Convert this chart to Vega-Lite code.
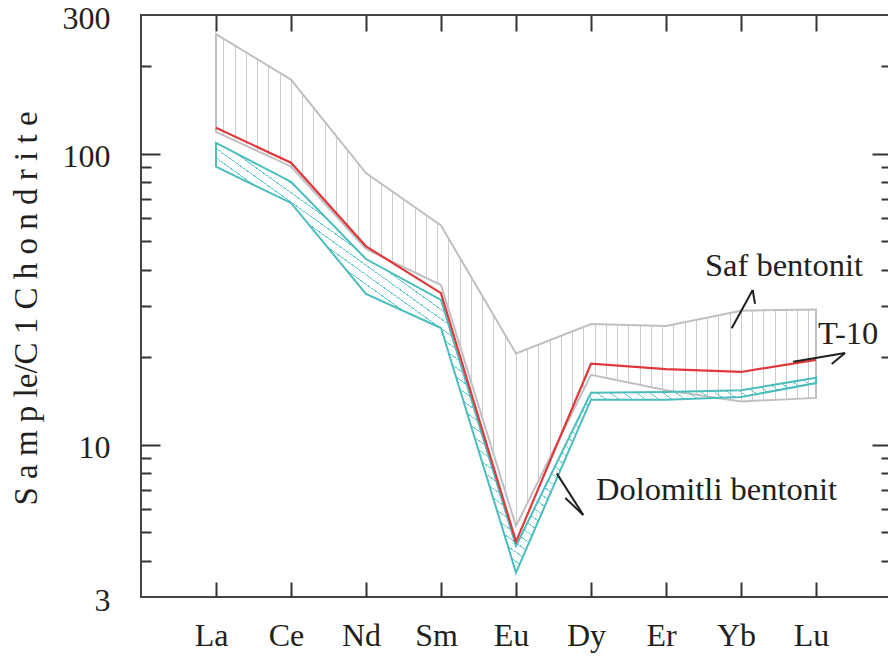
{
"$schema":"https://vega.github.io/schema/vega-lite/v6.json",
"width":750,"height":582,
"autosize":"none",
"padding":{"left":141,"top":15,"right":0,"bottom":65},
"config":{"view":{"stroke":"#444444","strokeWidth":2},"axis":{"grid":false,"domain":false,"tickColor":"#333333","tickWidth":2,"labelFont":"Liberation Serif","labelColor":"#231f20","titleFont":"Liberation Serif","titleColor":"#231f20","titleFontWeight":"normal"},"text":{"font":"Liberation Serif"}},
"data":{"values":[
{"element":"La","idx":1,"saf_hi":258,"saf_lo":119,"t10":123,"dol_hi":109,"dol_lo":90.3},
{"element":"Ce","idx":2,"saf_hi":180,"saf_lo":90.5,"t10":93.2,"dol_hi":80.2,"dol_lo":67.8},
{"element":"Nd","idx":3,"saf_hi":85.9,"saf_lo":47.1,"t10":48.1,"dol_hi":43.5,"dol_lo":33.0},
{"element":"Sm","idx":4,"saf_hi":56.7,"saf_lo":35.4,"t10":33.2,"dol_hi":31.5,"dol_lo":25.2},
{"element":"Eu","idx":5,"saf_hi":20.6,"saf_lo":5.26,"t10":4.65,"dol_hi":4.49,"dol_lo":3.64},
{"element":"Dy","idx":6,"saf_hi":26.0,"saf_lo":17.4,"t10":19.0,"dol_hi":15.1,"dol_lo":14.3},
{"element":"Er","idx":7,"saf_hi":25.6,"saf_lo":15.4,"t10":18.2,"dol_hi":15.2,"dol_lo":14.3},
{"element":"Yb","idx":8,"saf_hi":28.9,"saf_lo":14.1,"t10":17.8,"dol_hi":15.4,"dol_lo":14.6},
{"element":"Lu","idx":9,"saf_hi":29.2,"saf_lo":14.5,"t10":19.6,"dol_hi":17.0,"dol_lo":16.3}
]},
"resolve":{"axis":{"x":"independent","y":"independent"}},
"layer":[
{"mark":{"type":"area","stroke":"#c0c0c0","strokeWidth":2,"fill":{"gradient":"linear","x1":0,"y1":0,"x2":1,"y2":0,"stops":[
{"offset":0.0122,"color":"#fff0"},{"offset":0.0122,"color":"#ccc"},{"offset":0.0139,"color":"#ccc"},{"offset":0.0139,"color":"#fff0"},
{"offset":0.03095,"color":"#fff0"},{"offset":0.03095,"color":"#ccc"},{"offset":0.03265,"color":"#ccc"},{"offset":0.03265,"color":"#fff0"},
{"offset":0.0497,"color":"#fff0"},{"offset":0.0497,"color":"#ccc"},{"offset":0.0514,"color":"#ccc"},{"offset":0.0514,"color":"#fff0"},
{"offset":0.06845,"color":"#fff0"},{"offset":0.06845,"color":"#ccc"},{"offset":0.07015,"color":"#ccc"},{"offset":0.07015,"color":"#fff0"},
{"offset":0.0872,"color":"#fff0"},{"offset":0.0872,"color":"#ccc"},{"offset":0.0889,"color":"#ccc"},{"offset":0.0889,"color":"#fff0"},
{"offset":0.10595,"color":"#fff0"},{"offset":0.10595,"color":"#ccc"},{"offset":0.10765,"color":"#ccc"},{"offset":0.10765,"color":"#fff0"},
{"offset":0.1247,"color":"#fff0"},{"offset":0.1247,"color":"#ccc"},{"offset":0.1264,"color":"#ccc"},{"offset":0.1264,"color":"#fff0"},
{"offset":0.14345,"color":"#fff0"},{"offset":0.14345,"color":"#ccc"},{"offset":0.14515,"color":"#ccc"},{"offset":0.14515,"color":"#fff0"},
{"offset":0.1622,"color":"#fff0"},{"offset":0.1622,"color":"#ccc"},{"offset":0.1639,"color":"#ccc"},{"offset":0.1639,"color":"#fff0"},
{"offset":0.18095,"color":"#fff0"},{"offset":0.18095,"color":"#ccc"},{"offset":0.18265,"color":"#ccc"},{"offset":0.18265,"color":"#fff0"},
{"offset":0.1997,"color":"#fff0"},{"offset":0.1997,"color":"#ccc"},{"offset":0.2014,"color":"#ccc"},{"offset":0.2014,"color":"#fff0"},
{"offset":0.21845,"color":"#fff0"},{"offset":0.21845,"color":"#ccc"},{"offset":0.22015,"color":"#ccc"},{"offset":0.22015,"color":"#fff0"},
{"offset":0.2372,"color":"#fff0"},{"offset":0.2372,"color":"#ccc"},{"offset":0.2389,"color":"#ccc"},{"offset":0.2389,"color":"#fff0"},
{"offset":0.25595,"color":"#fff0"},{"offset":0.25595,"color":"#ccc"},{"offset":0.25765,"color":"#ccc"},{"offset":0.25765,"color":"#fff0"},
{"offset":0.2747,"color":"#fff0"},{"offset":0.2747,"color":"#ccc"},{"offset":0.2764,"color":"#ccc"},{"offset":0.2764,"color":"#fff0"},
{"offset":0.29345,"color":"#fff0"},{"offset":0.29345,"color":"#ccc"},{"offset":0.29515,"color":"#ccc"},{"offset":0.29515,"color":"#fff0"},
{"offset":0.3122,"color":"#fff0"},{"offset":0.3122,"color":"#ccc"},{"offset":0.3139,"color":"#ccc"},{"offset":0.3139,"color":"#fff0"},
{"offset":0.33095,"color":"#fff0"},{"offset":0.33095,"color":"#ccc"},{"offset":0.33265,"color":"#ccc"},{"offset":0.33265,"color":"#fff0"},
{"offset":0.3497,"color":"#fff0"},{"offset":0.3497,"color":"#ccc"},{"offset":0.3514,"color":"#ccc"},{"offset":0.3514,"color":"#fff0"},
{"offset":0.36845,"color":"#fff0"},{"offset":0.36845,"color":"#ccc"},{"offset":0.37015,"color":"#ccc"},{"offset":0.37015,"color":"#fff0"},
{"offset":0.3872,"color":"#fff0"},{"offset":0.3872,"color":"#ccc"},{"offset":0.3889,"color":"#ccc"},{"offset":0.3889,"color":"#fff0"},
{"offset":0.40595,"color":"#fff0"},{"offset":0.40595,"color":"#ccc"},{"offset":0.40765,"color":"#ccc"},{"offset":0.40765,"color":"#fff0"},
{"offset":0.4247,"color":"#fff0"},{"offset":0.4247,"color":"#ccc"},{"offset":0.4264,"color":"#ccc"},{"offset":0.4264,"color":"#fff0"},
{"offset":0.44345,"color":"#fff0"},{"offset":0.44345,"color":"#ccc"},{"offset":0.44515,"color":"#ccc"},{"offset":0.44515,"color":"#fff0"},
{"offset":0.4622,"color":"#fff0"},{"offset":0.4622,"color":"#ccc"},{"offset":0.4639,"color":"#ccc"},{"offset":0.4639,"color":"#fff0"},
{"offset":0.48095,"color":"#fff0"},{"offset":0.48095,"color":"#ccc"},{"offset":0.48265,"color":"#ccc"},{"offset":0.48265,"color":"#fff0"},
{"offset":0.4997,"color":"#fff0"},{"offset":0.4997,"color":"#ccc"},{"offset":0.5014,"color":"#ccc"},{"offset":0.5014,"color":"#fff0"},
{"offset":0.51845,"color":"#fff0"},{"offset":0.51845,"color":"#ccc"},{"offset":0.52015,"color":"#ccc"},{"offset":0.52015,"color":"#fff0"},
{"offset":0.5372,"color":"#fff0"},{"offset":0.5372,"color":"#ccc"},{"offset":0.5389,"color":"#ccc"},{"offset":0.5389,"color":"#fff0"},
{"offset":0.55595,"color":"#fff0"},{"offset":0.55595,"color":"#ccc"},{"offset":0.55765,"color":"#ccc"},{"offset":0.55765,"color":"#fff0"},
{"offset":0.5747,"color":"#fff0"},{"offset":0.5747,"color":"#ccc"},{"offset":0.5764,"color":"#ccc"},{"offset":0.5764,"color":"#fff0"},
{"offset":0.59345,"color":"#fff0"},{"offset":0.59345,"color":"#ccc"},{"offset":0.59515,"color":"#ccc"},{"offset":0.59515,"color":"#fff0"},
{"offset":0.6122,"color":"#fff0"},{"offset":0.6122,"color":"#ccc"},{"offset":0.6139,"color":"#ccc"},{"offset":0.6139,"color":"#fff0"},
{"offset":0.63095,"color":"#fff0"},{"offset":0.63095,"color":"#ccc"},{"offset":0.63265,"color":"#ccc"},{"offset":0.63265,"color":"#fff0"},
{"offset":0.6497,"color":"#fff0"},{"offset":0.6497,"color":"#ccc"},{"offset":0.6514,"color":"#ccc"},{"offset":0.6514,"color":"#fff0"},
{"offset":0.66845,"color":"#fff0"},{"offset":0.66845,"color":"#ccc"},{"offset":0.67015,"color":"#ccc"},{"offset":0.67015,"color":"#fff0"},
{"offset":0.6872,"color":"#fff0"},{"offset":0.6872,"color":"#ccc"},{"offset":0.6889,"color":"#ccc"},{"offset":0.6889,"color":"#fff0"},
{"offset":0.70595,"color":"#fff0"},{"offset":0.70595,"color":"#ccc"},{"offset":0.70765,"color":"#ccc"},{"offset":0.70765,"color":"#fff0"},
{"offset":0.7247,"color":"#fff0"},{"offset":0.7247,"color":"#ccc"},{"offset":0.7264,"color":"#ccc"},{"offset":0.7264,"color":"#fff0"},
{"offset":0.74345,"color":"#fff0"},{"offset":0.74345,"color":"#ccc"},{"offset":0.74515,"color":"#ccc"},{"offset":0.74515,"color":"#fff0"},
{"offset":0.7622,"color":"#fff0"},{"offset":0.7622,"color":"#ccc"},{"offset":0.7639,"color":"#ccc"},{"offset":0.7639,"color":"#fff0"},
{"offset":0.78095,"color":"#fff0"},{"offset":0.78095,"color":"#ccc"},{"offset":0.78265,"color":"#ccc"},{"offset":0.78265,"color":"#fff0"},
{"offset":0.7997,"color":"#fff0"},{"offset":0.7997,"color":"#ccc"},{"offset":0.8014,"color":"#ccc"},{"offset":0.8014,"color":"#fff0"},
{"offset":0.81845,"color":"#fff0"},{"offset":0.81845,"color":"#ccc"},{"offset":0.82015,"color":"#ccc"},{"offset":0.82015,"color":"#fff0"},
{"offset":0.8372,"color":"#fff0"},{"offset":0.8372,"color":"#ccc"},{"offset":0.8389,"color":"#ccc"},{"offset":0.8389,"color":"#fff0"},
{"offset":0.85595,"color":"#fff0"},{"offset":0.85595,"color":"#ccc"},{"offset":0.85765,"color":"#ccc"},{"offset":0.85765,"color":"#fff0"},
{"offset":0.8747,"color":"#fff0"},{"offset":0.8747,"color":"#ccc"},{"offset":0.8764,"color":"#ccc"},{"offset":0.8764,"color":"#fff0"},
{"offset":0.89345,"color":"#fff0"},{"offset":0.89345,"color":"#ccc"},{"offset":0.89515,"color":"#ccc"},{"offset":0.89515,"color":"#fff0"},
{"offset":0.9122,"color":"#fff0"},{"offset":0.9122,"color":"#ccc"},{"offset":0.9139,"color":"#ccc"},{"offset":0.9139,"color":"#fff0"},
{"offset":0.93095,"color":"#fff0"},{"offset":0.93095,"color":"#ccc"},{"offset":0.93265,"color":"#ccc"},{"offset":0.93265,"color":"#fff0"},
{"offset":0.9497,"color":"#fff0"},{"offset":0.9497,"color":"#ccc"},{"offset":0.9514,"color":"#ccc"},{"offset":0.9514,"color":"#fff0"},
{"offset":0.96845,"color":"#fff0"},{"offset":0.96845,"color":"#ccc"},{"offset":0.97015,"color":"#ccc"},{"offset":0.97015,"color":"#fff0"},
{"offset":0.9872,"color":"#fff0"},{"offset":0.9872,"color":"#ccc"},{"offset":0.9889,"color":"#ccc"},{"offset":0.9889,"color":"#fff0"}
]}},
"encoding":{
"x":{"field":"idx","type":"quantitative","scale":{"domain":[0,10],"nice":false,"zero":false},"axis":{"orient":"bottom","values":[1,2,3,4,5,6,7,8,9],"labelExpr":"['','La','Ce','Nd','Sm','Eu','Dy','Er','Yb','Lu'][datum.value]","ticks":false,"labelFontSize":32,"labelPadding":48,"labelBaseline":"alphabetic","labelOffset":-5,"labelFlush":false,"labelOverlap":false,"title":null}},
"y":{"field":"saf_hi","type":"quantitative","scale":{"type":"log","domain":[3,300],"nice":false},"axis":{"orient":"left","values":[3,10,100,300],"format":"d","ticks":false,"labelFontSize":32,"labelPadding":31,"labelOffset":3,"labelBaseline":"middle","labelFlush":false,"labelOverlap":false,"title":"S a m p le/C 1  C h o n d r i t e","titleFontSize":33,"titleX":-105,"titleY":293,"titleAngle":270,"titleAlign":"center","titleBaseline":"alphabetic"}},
"y2":{"field":"saf_lo"}}},
{"mark":{"type":"area","stroke":"#4cbdbd","strokeWidth":2,"fill":{"gradient":"linear","x1":0,"y1":1,"x2":1,"y2":0,"stops":[
{"offset":0.24,"color":"#fff0"},{"offset":0.24,"color":"#6cc"},{"offset":0.2413,"color":"#6cc"},{"offset":0.2413,"color":"#fff0"},
{"offset":0.251,"color":"#fff0"},{"offset":0.251,"color":"#6cc"},{"offset":0.2523,"color":"#6cc"},{"offset":0.2523,"color":"#fff0"},
{"offset":0.262,"color":"#fff0"},{"offset":0.262,"color":"#6cc"},{"offset":0.2633,"color":"#6cc"},{"offset":0.2633,"color":"#fff0"},
{"offset":0.273,"color":"#fff0"},{"offset":0.273,"color":"#6cc"},{"offset":0.2743,"color":"#6cc"},{"offset":0.2743,"color":"#fff0"},
{"offset":0.284,"color":"#fff0"},{"offset":0.284,"color":"#6cc"},{"offset":0.2853,"color":"#6cc"},{"offset":0.2853,"color":"#fff0"},
{"offset":0.295,"color":"#fff0"},{"offset":0.295,"color":"#6cc"},{"offset":0.2963,"color":"#6cc"},{"offset":0.2963,"color":"#fff0"},
{"offset":0.306,"color":"#fff0"},{"offset":0.306,"color":"#6cc"},{"offset":0.3073,"color":"#6cc"},{"offset":0.3073,"color":"#fff0"},
{"offset":0.317,"color":"#fff0"},{"offset":0.317,"color":"#6cc"},{"offset":0.3183,"color":"#6cc"},{"offset":0.3183,"color":"#fff0"},
{"offset":0.328,"color":"#fff0"},{"offset":0.328,"color":"#6cc"},{"offset":0.3293,"color":"#6cc"},{"offset":0.3293,"color":"#fff0"},
{"offset":0.339,"color":"#fff0"},{"offset":0.339,"color":"#6cc"},{"offset":0.3403,"color":"#6cc"},{"offset":0.3403,"color":"#fff0"},
{"offset":0.35,"color":"#fff0"},{"offset":0.35,"color":"#6cc"},{"offset":0.3513,"color":"#6cc"},{"offset":0.3513,"color":"#fff0"},
{"offset":0.361,"color":"#fff0"},{"offset":0.361,"color":"#6cc"},{"offset":0.3623,"color":"#6cc"},{"offset":0.3623,"color":"#fff0"},
{"offset":0.372,"color":"#fff0"},{"offset":0.372,"color":"#6cc"},{"offset":0.3733,"color":"#6cc"},{"offset":0.3733,"color":"#fff0"},
{"offset":0.383,"color":"#fff0"},{"offset":0.383,"color":"#6cc"},{"offset":0.3843,"color":"#6cc"},{"offset":0.3843,"color":"#fff0"},
{"offset":0.394,"color":"#fff0"},{"offset":0.394,"color":"#6cc"},{"offset":0.3953,"color":"#6cc"},{"offset":0.3953,"color":"#fff0"},
{"offset":0.405,"color":"#fff0"},{"offset":0.405,"color":"#6cc"},{"offset":0.4063,"color":"#6cc"},{"offset":0.4063,"color":"#fff0"},
{"offset":0.416,"color":"#fff0"},{"offset":0.416,"color":"#6cc"},{"offset":0.4173,"color":"#6cc"},{"offset":0.4173,"color":"#fff0"},
{"offset":0.427,"color":"#fff0"},{"offset":0.427,"color":"#6cc"},{"offset":0.4283,"color":"#6cc"},{"offset":0.4283,"color":"#fff0"},
{"offset":0.438,"color":"#fff0"},{"offset":0.438,"color":"#6cc"},{"offset":0.4393,"color":"#6cc"},{"offset":0.4393,"color":"#fff0"},
{"offset":0.449,"color":"#fff0"},{"offset":0.449,"color":"#6cc"},{"offset":0.4503,"color":"#6cc"},{"offset":0.4503,"color":"#fff0"},
{"offset":0.46,"color":"#fff0"},{"offset":0.46,"color":"#6cc"},{"offset":0.4613,"color":"#6cc"},{"offset":0.4613,"color":"#fff0"},
{"offset":0.471,"color":"#fff0"},{"offset":0.471,"color":"#6cc"},{"offset":0.4723,"color":"#6cc"},{"offset":0.4723,"color":"#fff0"},
{"offset":0.482,"color":"#fff0"},{"offset":0.482,"color":"#6cc"},{"offset":0.4833,"color":"#6cc"},{"offset":0.4833,"color":"#fff0"},
{"offset":0.493,"color":"#fff0"},{"offset":0.493,"color":"#6cc"},{"offset":0.4943,"color":"#6cc"},{"offset":0.4943,"color":"#fff0"},
{"offset":0.504,"color":"#fff0"},{"offset":0.504,"color":"#6cc"},{"offset":0.5053,"color":"#6cc"},{"offset":0.5053,"color":"#fff0"},
{"offset":0.515,"color":"#fff0"},{"offset":0.515,"color":"#6cc"},{"offset":0.5163,"color":"#6cc"},{"offset":0.5163,"color":"#fff0"},
{"offset":0.526,"color":"#fff0"},{"offset":0.526,"color":"#6cc"},{"offset":0.5273,"color":"#6cc"},{"offset":0.5273,"color":"#fff0"},
{"offset":0.537,"color":"#fff0"},{"offset":0.537,"color":"#6cc"},{"offset":0.5383,"color":"#6cc"},{"offset":0.5383,"color":"#fff0"},
{"offset":0.548,"color":"#fff0"},{"offset":0.548,"color":"#6cc"},{"offset":0.5493,"color":"#6cc"},{"offset":0.5493,"color":"#fff0"},
{"offset":0.559,"color":"#fff0"},{"offset":0.559,"color":"#6cc"},{"offset":0.5603,"color":"#6cc"},{"offset":0.5603,"color":"#fff0"},
{"offset":0.57,"color":"#fff0"},{"offset":0.57,"color":"#6cc"},{"offset":0.5713,"color":"#6cc"},{"offset":0.5713,"color":"#fff0"},
{"offset":0.581,"color":"#fff0"},{"offset":0.581,"color":"#6cc"},{"offset":0.5823,"color":"#6cc"},{"offset":0.5823,"color":"#fff0"},
{"offset":0.592,"color":"#fff0"},{"offset":0.592,"color":"#6cc"},{"offset":0.5933,"color":"#6cc"},{"offset":0.5933,"color":"#fff0"},
{"offset":0.603,"color":"#fff0"},{"offset":0.603,"color":"#6cc"},{"offset":0.6043,"color":"#6cc"},{"offset":0.6043,"color":"#fff0"},
{"offset":0.614,"color":"#fff0"},{"offset":0.614,"color":"#6cc"},{"offset":0.6153,"color":"#6cc"},{"offset":0.6153,"color":"#fff0"},
{"offset":0.625,"color":"#fff0"},{"offset":0.625,"color":"#6cc"},{"offset":0.6263,"color":"#6cc"},{"offset":0.6263,"color":"#fff0"},
{"offset":0.636,"color":"#fff0"},{"offset":0.636,"color":"#6cc"},{"offset":0.6373,"color":"#6cc"},{"offset":0.6373,"color":"#fff0"},
{"offset":0.647,"color":"#fff0"},{"offset":0.647,"color":"#6cc"},{"offset":0.6483,"color":"#6cc"},{"offset":0.6483,"color":"#fff0"},
{"offset":0.658,"color":"#fff0"},{"offset":0.658,"color":"#6cc"},{"offset":0.6593,"color":"#6cc"},{"offset":0.6593,"color":"#fff0"},
{"offset":0.669,"color":"#fff0"},{"offset":0.669,"color":"#6cc"},{"offset":0.6703,"color":"#6cc"},{"offset":0.6703,"color":"#fff0"},
{"offset":0.68,"color":"#fff0"},{"offset":0.68,"color":"#6cc"},{"offset":0.6813,"color":"#6cc"},{"offset":0.6813,"color":"#fff0"},
{"offset":0.691,"color":"#fff0"},{"offset":0.691,"color":"#6cc"},{"offset":0.6923,"color":"#6cc"},{"offset":0.6923,"color":"#fff0"},
{"offset":0.702,"color":"#fff0"},{"offset":0.702,"color":"#6cc"},{"offset":0.7033,"color":"#6cc"},{"offset":0.7033,"color":"#fff0"},
{"offset":0.713,"color":"#fff0"},{"offset":0.713,"color":"#6cc"},{"offset":0.7143,"color":"#6cc"},{"offset":0.7143,"color":"#fff0"},
{"offset":0.724,"color":"#fff0"},{"offset":0.724,"color":"#6cc"},{"offset":0.7253,"color":"#6cc"},{"offset":0.7253,"color":"#fff0"},
{"offset":0.735,"color":"#fff0"},{"offset":0.735,"color":"#6cc"},{"offset":0.7363,"color":"#6cc"},{"offset":0.7363,"color":"#fff0"}
]}},
"encoding":{
"x":{"field":"idx","type":"quantitative","axis":{"orient":"top","values":[1,2,3,4,5,6,7,8,9],"labels":false,"tickSize":-16,"title":null}},
"y":{"field":"dol_hi","type":"quantitative","axis":{"orient":"left","values":[4,5,6,7,8,9,20,30,40,50,60,70,80,90,200],"labels":false,"tickSize":-10,"title":null}},
"y2":{"field":"dol_lo"}}},
{"mark":{"type":"line","color":"#e0383c","strokeWidth":2.2},
"encoding":{
"x":{"field":"idx","type":"quantitative","axis":{"orient":"bottom","values":[1,2,3,4,5,6,7,8,9],"labels":false,"tickSize":-15,"title":null}},
"y":{"field":"t10","type":"quantitative","axis":{"orient":"left","values":[10,100],"labels":false,"tickSize":-19,"title":null}}}},
{"data":{"values":[{}]},"mark":{"type":"rule","color":"#231f20","strokeWidth":2},
"encoding":{"x":{"datum":7.876,"type":"quantitative","axis":null},"x2":{"datum":8.156},"y":{"datum":25.15,"type":"quantitative","axis":{"orient":"right","values":[10,100],"labels":false,"tickSize":-19,"title":null}},"y2":{"datum":34.05}}},
{"data":{"values":[{}]},"mark":{"type":"rule","color":"#231f20","strokeWidth":2},
"encoding":{"x":{"datum":8.156,"type":"quantitative","axis":null},"x2":{"datum":8.187},"y":{"datum":34.05,"type":"quantitative","axis":{"orient":"right","values":[4,5,6,7,8,9,20,30,40,50,60,70,80,90,200],"labels":false,"tickSize":-10,"title":null}},"y2":{"datum":30.5}}},
{"data":{"values":[{}]},"mark":{"type":"rule","color":"#231f20","strokeWidth":2},
"encoding":{"x":{"datum":8.697,"type":"quantitative","axis":null},"x2":{"datum":9.387},"y":{"datum":19.3,"type":"quantitative","axis":null},"y2":{"datum":20.7}}},
{"data":{"values":[{}]},"mark":{"type":"rule","color":"#231f20","strokeWidth":2},
"encoding":{"x":{"datum":9.387,"type":"quantitative","axis":null},"x2":{"datum":9.209},"y":{"datum":20.7,"type":"quantitative","axis":null},"y2":{"datum":18.95}}},
{"data":{"values":[{}]},"mark":{"type":"rule","color":"#231f20","strokeWidth":2},
"encoding":{"x":{"datum":5.543,"type":"quantitative","axis":null},"x2":{"datum":5.897},"y":{"datum":7.98,"type":"quantitative","axis":null},"y2":{"datum":5.74}}},
{"data":{"values":[{}]},"mark":{"type":"rule","color":"#231f20","strokeWidth":2},
"encoding":{"x":{"datum":5.897,"type":"quantitative","axis":null},"x2":{"datum":5.657},"y":{"datum":5.74,"type":"quantitative","axis":null},"y2":{"datum":6.57}}},
{"data":{"values":[{"label":"Saf bentonit"}]},"mark":{"type":"text","align":"left","baseline":"alphabetic","fontSize":32.5,"color":"#231f20","font":"Liberation Serif"},
"encoding":{"x":{"datum":7.52,"type":"quantitative","axis":null},"y":{"datum":38.0,"type":"quantitative","axis":null},"text":{"field":"label"}}},
{"data":{"values":[{"label":"T-10"}]},"mark":{"type":"text","align":"left","baseline":"alphabetic","fontSize":32.5,"color":"#231f20","font":"Liberation Serif"},
"encoding":{"x":{"datum":9.027,"type":"quantitative","axis":null},"y":{"datum":22.2,"type":"quantitative","axis":null},"text":{"field":"label"}}},
{"data":{"values":[{"label":"Dolomitli bentonit"}]},"mark":{"type":"text","align":"left","baseline":"alphabetic","fontSize":32.5,"color":"#231f20","font":"Liberation Serif"},
"encoding":{"x":{"datum":6.067,"type":"quantitative","axis":null},"y":{"datum":6.46,"type":"quantitative","axis":null},"text":{"field":"label"}}}
]
}
